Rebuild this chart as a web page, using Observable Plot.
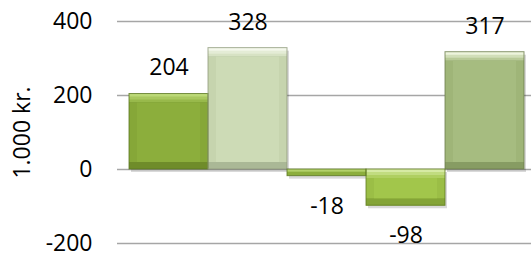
<!DOCTYPE html>
<html><head><meta charset="utf-8">
<script src="https://cdn.jsdelivr.net/npm/d3@7"></script>
<script src="https://cdn.jsdelivr.net/npm/@observablehq/plot@0.6"></script>
<style>body{margin:0;background:#fff;} svg{display:block}</style>
</head><body><div id="chart"></div>
<script>
const categories = ["A", "B", "C", "D", "E"];
const values = [204, 328, -18, -98, 317];
const yTicks = [-200, 0, 200, 400];
const yLabel = "1.000 kr.";
const faceColors   = ["#8cae3c", "#cddbb6", "#8cae3c", "#a2c64b", "#a6bc80"];
const topColors    = ["#bcd977", "#f4f8ec", "#b3d16a", "#d6eaa4", "#edf4dd"];
const sideColors   = ["#86a738", "#c6d4ae", "#8cae3c", "#9bbe46", "#9fb578"];
const bottomColors = ["#6f8c2a", "#aab896", "#6f8c2a", "#84a437", "#879c63"];
const edgeColors   = ["#5a7520", "#8e9a7c", "#5a7520", "#5f7a22", "#6c7d4c"];

const data = categories.map((c, i) => ({c, v: values[i], i}));
const big = data.filter(d => Math.abs(d.v) > 50);
const small = data.filter(d => Math.abs(d.v) <= 50);
const pos = data.filter(d => d.v >= 0);
const neg = data.filter(d => d.v < 0);
const mix = (i, t) => d3.interpolateRgb(topColors[i], faceColors[i])(t);

const font = "'Open Sans', sans-serif";
const chart = Plot.plot({
  width: 531, height: 253,
  marginLeft: 128, marginRight: 7, marginTop: 21, marginBottom: 10,
  style: {fontFamily: font, fontSize: "23px", color: "#000", background: "#fff", overflow: "visible"},
  color: {type: "identity"},
  x: {domain: categories, padding: 0, axis: null},
  y: {domain: [-200, 400], ticks: yTicks, label: null, tickSize: 0, tickPadding: 36, tickFormat: d => String(d)},
  marks: [
    Plot.ruleY(yTicks, {stroke: "#a6a6a6", strokeWidth: 1.5, insetLeft: -11, insetRight: -7}),
    Plot.barY(data, {x: "c", y: "v", fill: "#000", fillOpacity: 0.15, dx: 2, dy: 3}),
    // bevel layers
    Plot.barY(big, {x: "c", y: "v", fill: d => topColors[d.i]}),
    Plot.barY(big, {x: "c", y: "v", insetTop: 3, fill: d => mix(d.i, 0.4)}),
    Plot.barY(big, {x: "c", y: "v", insetTop: 6, fill: d => mix(d.i, 0.75)}),
    Plot.barY(big, {x: "c", y: "v", insetTop: 9, fill: d => bottomColors[d.i]}),
    Plot.barY(big, {x: "c", y: "v", insetTop: 9, insetBottom: 7, fill: d => sideColors[d.i]}),
    Plot.barY(big, {x: "c", y: "v", insetLeft: 8, insetRight: 8, insetTop: 9, insetBottom: 7, fill: d => faceColors[d.i]}),
    // thin bar
    Plot.barY(small, {x: "c", y: "v", fill: d => faceColors[d.i]}),
    Plot.barY(small, {x: "c", y: "v", insetBottom: 4, fill: d => topColors[d.i]}),
    Plot.barY(data, {x: "c", y: "v", fill: "none", stroke: d => edgeColors[d.i], strokeWidth: 1, strokeOpacity: 0.8}),
    Plot.text(pos, {x: "c", y: "v", text: d => String(d.v), dy: -26, fill: "#000"}),
    Plot.text(neg, {x: "c", y: "v", text: d => String(d.v), dy: 30, fill: "#000"}),
    Plot.text([yLabel], {frameAnchor: "left", dx: -106, rotate: -90, textAnchor: "middle", text: d => d, fill: "#000"})
  ]
});
document.getElementById("chart").appendChild(chart);
</script>
</body></html>
